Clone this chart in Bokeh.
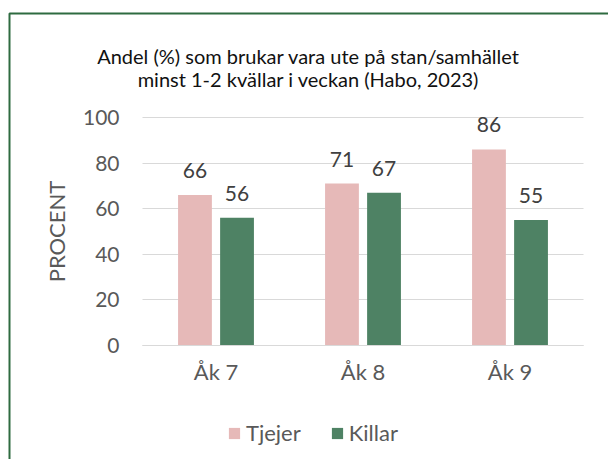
from bokeh.plotting import figure
from bokeh.models import (ColumnDataSource, LabelSet, Label, BoxAnnotation,
                          Legend, LegendItem, Range1d, FixedTicker)
from bokeh.transform import dodge
from bokeh.embed import file_html
from bokeh.resources import INLINE
from bokeh.core.properties import value

categories = ["Åk 7", "Åk 8", "Åk 9"]
tjejer = [66, 71, 86]
killar = [56, 67, 55]
series_names = ["Tjejer", "Killar"]
y_ticks = [0, 20, 40, 60, 80, 100]
title_lines = ["Andel (%) som brukar vara ute på stan/samhället",
               "minst 1-2 kvällar i veckan (Habo, 2023)"]
y_label = "PROCENT"

FONT = "Lato"
PINK = "#E6B9B8"
GREEN = "#4E8264"
TXT = "#595959"
GRID = "#D9D9D9"
W, H = 608, 459
# plot area (pixels) inside the canvas
L, R, T, B = 142, 583, 117, 345
OFF, BW = 0.143, 0.23

idx = list(range(len(categories)))
src = ColumnDataSource(dict(i=idx, cat=categories, tjejer=tjejer, killar=killar,
                            tj_lbl=[str(v) for v in tjejer],
                            ki_lbl=[str(v) for v in killar]))

n = len(categories)
pxx = (R - L) / n
pxy = (B - T) / 100.0
x_range = Range1d(-0.5 - L / pxx, n - 0.5 + (W - R) / pxx)
y_range = Range1d(0 - (H - B) / pxy, 100 + T / pxy)

p = figure(width=W, height=H, x_range=x_range, y_range=y_range,
           output_backend="svg", toolbar_location=None,
           min_border=0, min_border_left=0, min_border_right=0,
           min_border_top=0, min_border_bottom=0)

p.xgrid.visible = False
p.ygrid.visible = False
p.outline_line_color = None
p.background_fill_color = "white"
p.border_fill_color = "white"

# y axis drawn at the left edge of the plot area; its long inward ticks are the grid lines
ya = p.yaxis[0]
ya.fixed_location = -0.5
ya.bounds = (0, 100)
ya.ticker = FixedTicker(ticks=y_ticks)
ya.axis_line_color = None
ya.major_tick_in = R - L
ya.major_tick_out = 0
ya.major_tick_line_color = GRID
ya.major_tick_line_width = 1
ya.minor_tick_line_color = None
ya.major_label_standoff = 23
ya.major_label_text_font = FONT
ya.major_label_text_font_size = "21px"
ya.major_label_text_color = TXT
ya.axis_label = y_label
ya.axis_label_text_font = FONT
ya.axis_label_text_font_size = "22px"
ya.axis_label_text_font_style = "normal"
ya.axis_label_text_color = TXT
ya.axis_label_standoff = 10
ya.level = "underlay"

xa = p.xaxis[0]
xa.fixed_location = 0
xa.bounds = (-0.5, n - 0.5)
xa.ticker = FixedTicker(ticks=idx)
xa.major_label_overrides = {i: c for i, c in zip(idx, categories)}
xa.axis_line_color = GRID
xa.major_tick_line_color = None
xa.minor_tick_line_color = None
xa.major_label_standoff = 6
xa.major_label_text_font = FONT
xa.major_label_text_font_size = "22px"
xa.major_label_text_color = TXT

r1 = p.vbar(x=dodge("i", -OFF), top="tjejer", width=BW, source=src,
            fill_color=PINK, line_color=None)
r2 = p.vbar(x=dodge("i", OFF), top="killar", width=BW, source=src,
            fill_color=GREEN, line_color=None)

for col, lab, off in (("tjejer", "tj_lbl", -OFF), ("killar", "ki_lbl", OFF)):
    p.add_layout(LabelSet(x=dodge("i", off), y=col, text=lab,
                          y_offset=17, text_align="center", text_baseline="alphabetic",
                          text_font=value(FONT), text_font_size="21px",
                          text_color="#404040", source=src))

legend = Legend(items=[LegendItem(label=series_names[0], renderers=[r1]),
                       LegendItem(label=series_names[1], renderers=[r2])],
                orientation="horizontal", location=(227, 13),
                glyph_width=14, glyph_height=14, label_standoff=5, spacing=29,
                padding=0, margin=0, border_line_color=None,
                background_fill_alpha=0, label_text_font=FONT,
                label_text_font_size="22px", label_text_color=TXT)
p.add_layout(legend)

for txt, yb in zip(title_lines, (55, 78)):
    p.add_layout(Label(x=308, y=H - yb, x_units="screen", y_units="screen", text=txt,
                       text_align="center", text_baseline="alphabetic",
                       text_font=FONT, text_font_size="20px",
                       text_color="#111111"))

p.add_layout(BoxAnnotation(left=9, right=W + 50, top=H - 13, bottom=-50,
                           left_units="screen", right_units="screen",
                           top_units="screen", bottom_units="screen",
                           fill_alpha=0, line_color="#2E6B40", line_alpha=1,
                           line_width=2))

open("out.html", "w").write(file_html(p, INLINE))
